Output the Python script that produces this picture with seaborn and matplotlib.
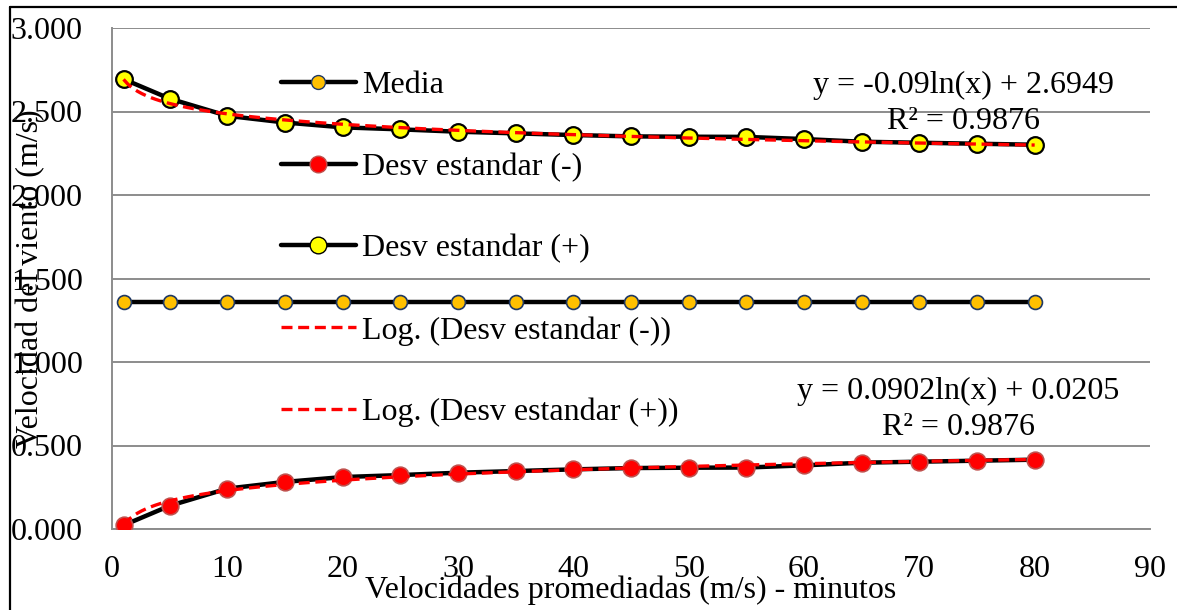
import numpy as np
import pandas as pd
import matplotlib
matplotlib.use("Agg")
import matplotlib.pyplot as plt
from matplotlib.lines import Line2D
import seaborn as sns

# ---------------- data ----------------
minutes = [1, 5, 10, 15, 20, 25, 30, 35, 40, 45, 50, 55, 60, 65, 70, 75, 80]
media = [1.358] * 17
desv_minus = [0.022, 0.139, 0.242, 0.282, 0.311, 0.323, 0.337, 0.347, 0.357,
              0.365, 0.367, 0.368, 0.381, 0.397, 0.403, 0.409, 0.415]
desv_plus = [2.694, 2.577, 2.474, 2.434, 2.405, 2.393, 2.379, 2.369, 2.359,
             2.351, 2.349, 2.348, 2.335, 2.319, 2.313, 2.307, 2.301]
x_ticks = [0, 10, 20, 30, 40, 50, 60, 70, 80, 90]
y_ticks = [0.0, 0.5, 1.0, 1.5, 2.0, 2.5, 3.0]
eq_plus = ["y = -0.09ln(x) + 2.6949", "R² = 0.9876"]
eq_minus = ["y = 0.0902ln(x) + 0.0205", "R² = 0.9876"]
labels = ["Media", "Desv estandar (-)", "Desv estandar (+)",
          "Log. (Desv estandar (-))", "Log. (Desv estandar (+))"]

df = pd.DataFrame({"min": minutes, "media": media,
                   "minus": desv_minus, "plus": desv_plus})

# ---------------- style ----------------
sns.set_theme(style="white")
plt.rcParams["font.family"] = ["Liberation Serif", "DejaVu Serif"]
plt.rcParams["text.color"] = "black"
plt.rcParams["axes.labelcolor"] = "black"
FS = 23
GRAY = "#8c8c8c"

fig = plt.figure(figsize=(11.77, 6.10), dpi=100)
ax = fig.add_axes([112 / 1177, 1 - 529 / 610, (1150 - 112) / 1177, (529 - 28) / 610])

LW = 3.2
sns.lineplot(data=df, x="min", y="media", ax=ax, color="black", lw=LW,
             marker="o", markersize=10, markerfacecolor="#FFC000",
             markeredgecolor="#1F3864", markeredgewidth=1.2, zorder=3)
sns.lineplot(data=df, x="min", y="minus", ax=ax, color="black", lw=LW,
             marker="o", markersize=12, markerfacecolor="#FF0000",
             markeredgecolor="#C0504D", markeredgewidth=1.2, zorder=3)
sns.lineplot(data=df, x="min", y="plus", ax=ax, color="black", lw=LW,
             marker="o", markersize=12, markerfacecolor="#FFFF00",
             markeredgecolor="black", markeredgewidth=1.6, zorder=3)

# logarithmic trendlines fitted from the data
xs = np.linspace(min(minutes), max(minutes), 200)
lx = np.log(np.array(minutes))
a_m, b_m = np.polyfit(lx, desv_minus, 1)
a_p, b_p = np.polyfit(lx, desv_plus, 1)
dash = (3.3, 1.7)
sns.lineplot(x=xs, y=a_m * np.log(xs) + b_m, ax=ax, color="#FF0000", lw=2.4,
             dashes=False, zorder=4).lines[-1].set_dashes(dash)
sns.lineplot(x=xs, y=a_p * np.log(xs) + b_p, ax=ax, color="#FF0000", lw=2.4,
             dashes=False, zorder=4).lines[-1].set_dashes(dash)

# ---------------- axes ----------------
ax.set_xlim(0, 90)
ax.set_ylim(0, 3.0)
ax.set_xticks(x_ticks)
ax.set_yticks(y_ticks)
ax.set_yticklabels([f"{v:.3f}" for v in y_ticks])
ax.tick_params(axis="both", labelsize=FS, colors="black", length=7,
               width=1.4, direction="out")
ax.tick_params(axis="y", pad=14, color=GRAY)
ax.tick_params(axis="x", pad=12, color=GRAY)
ax.yaxis.grid(True, color=GRAY, lw=1.4)
ax.xaxis.grid(False)
for s in ["top", "right"]:
    ax.spines[s].set_visible(False)
for s in ["left", "bottom"]:
    ax.spines[s].set_color(GRAY)
    ax.spines[s].set_linewidth(1.4)
ax.set_facecolor("white")

ax.set_xlabel("Velocidades promediadas (m/s) - minutos", fontsize=FS, va="center")
ax.xaxis.set_label_coords(0.5, (529 - 590) / 501)
ax.set_ylabel("Velocidad del viento (m/s)", fontsize=FS, va="center")
ax.yaxis.set_label_coords((31 - 112) / 1038, 0.5)

# equations
ax.text(73.8, 2.655, eq_plus[0], fontsize=FS, ha="center", va="center")
ax.text(73.8, 2.443, eq_plus[1], fontsize=FS, ha="center", va="center")
ax.text(73.4, 0.826, eq_minus[0], fontsize=FS, ha="center", va="center")
ax.text(73.4, 0.605, eq_minus[1], fontsize=FS, ha="center", va="center")

# legend
handles = [
    Line2D([], [], color="black", lw=LW, marker="o", markersize=10,
           markerfacecolor="#FFC000", markeredgecolor="#1F3864"),
    Line2D([], [], color="black", lw=LW, marker="o", markersize=12,
           markerfacecolor="#FF0000", markeredgecolor="#C0504D"),
    Line2D([], [], color="black", lw=LW, marker="o", markersize=12,
           markerfacecolor="#FFFF00", markeredgecolor="black"),
    Line2D([], [], color="#FF0000", lw=2.4, dashes=dash),
    Line2D([], [], color="#FF0000", lw=2.4, dashes=dash),
]
leg = ax.legend(handles, labels, loc="upper left", frameon=False,
                fontsize=FS, handlelength=2.35, handletextpad=0.2,
                labelspacing=1.64,
                bbox_to_anchor=(252 / 1177, 1 - 42 / 610),
                bbox_transform=fig.transFigure)

# figure border (top and left)
fig.add_artist(Line2D([10 / 1177, 1.0], [1 - 7 / 610, 1 - 7 / 610],
                      color="black", lw=1.6, transform=fig.transFigure))
fig.add_artist(Line2D([10 / 1177, 10 / 1177], [0.0, 1 - 7 / 610],
                      color="black", lw=1.6, transform=fig.transFigure))

fig.savefig("out.png", dpi=100, facecolor="white")
